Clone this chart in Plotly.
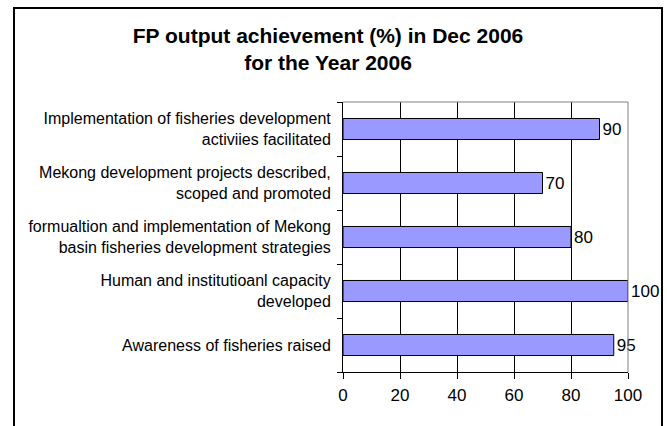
"""FP output achievement (%) in Dec 2006 - horizontal bar chart."""
import plotly.graph_objects as go

# categories listed top to bottom as in the chart
categories = [
    "Implementation of fisheries development<br>activiies facilitated",
    "Mekong development projects described,<br>scoped and promoted",
    "formualtion and implementation of Mekong<br>basin fisheries development strategies",
    "Human and institutioanl capacity<br>developed",
    "Awareness of fisheries raised",
]
achievement = [90, 70, 80, 100, 95]
x_ticks = [0, 20, 40, 60, 80, 100]

title = "FP output achievement (%) in Dec 2006<br>for the Year 2006"
font = "Liberation Sans, Arial, sans-serif"

W, H = 667, 426
L, R, T, B = 343, 39, 102, 54
pw, ph = W - L - R, H - T - B


def px_x(p):  # pixel -> paper x
    return (p - L) / pw


def px_y(p):  # pixel -> paper y
    return (H - B - p) / ph


fig = go.Figure(go.Bar(
    x=achievement, y=categories, orientation="h",
    marker=dict(color="#9999FF", line=dict(color="black", width=1)),
    width=0.39,
    text=[str(v) for v in achievement], textposition="outside",
    textfont=dict(family=font, size=17, color="black"),
    constraintext="none", cliponaxis=False,
    hovertemplate="%{y}: %{x}<extra></extra>",
))

fig.update_xaxes(range=[0, 100], tickvals=x_ticks, showgrid=True,
                 gridcolor="black", gridwidth=1, zeroline=False,
                 showline=True, linecolor="black", linewidth=1,
                 ticks="outside", ticklen=6, tickcolor="black",
                 ticklabelstandoff=2,
                 tickfont=dict(family=font, size=17, color="black"))
fig.update_yaxes(categoryorder="array", categoryarray=categories[::-1],
                 showgrid=False, showline=True, linecolor="black", linewidth=1,
                 ticks="outside", ticklen=5, tickcolor="black",
                 tickson="boundaries", ticklabelstandoff=8,
                 tickfont=dict(family=font, size=16, color="black"))

shapes = [
    # gray top / right plot-area border
    dict(type="line", xref="paper", yref="paper", x0=0, x1=1, y0=1, y1=1,
         line=dict(color="#808080", width=1)),
    dict(type="line", xref="paper", yref="paper", x0=1, x1=1, y0=0, y1=1,
         line=dict(color="#808080", width=1)),
    # outer chart frame
    dict(type="rect", xref="paper", yref="paper",
         x0=px_x(14), x1=px_x(662), y0=px_y(440), y1=px_y(8),
         line=dict(color="black", width=2), layer="below"),
]

fig.update_layout(
    width=W, height=H,
    margin=dict(l=L, r=R, t=T, b=B),
    paper_bgcolor="white", plot_bgcolor="white",
    bargap=0.61, showlegend=False, shapes=shapes,
    title=dict(text=title, x=328 / W, xanchor="center",
               y=1 - 43 / H, yanchor="top",
               font=dict(family=font, size=21, color="black", weight="bold")),
)

fig.write_html("out.html", config={"displayModeBar": False},
               post_script="document.body.style.margin='0';")
